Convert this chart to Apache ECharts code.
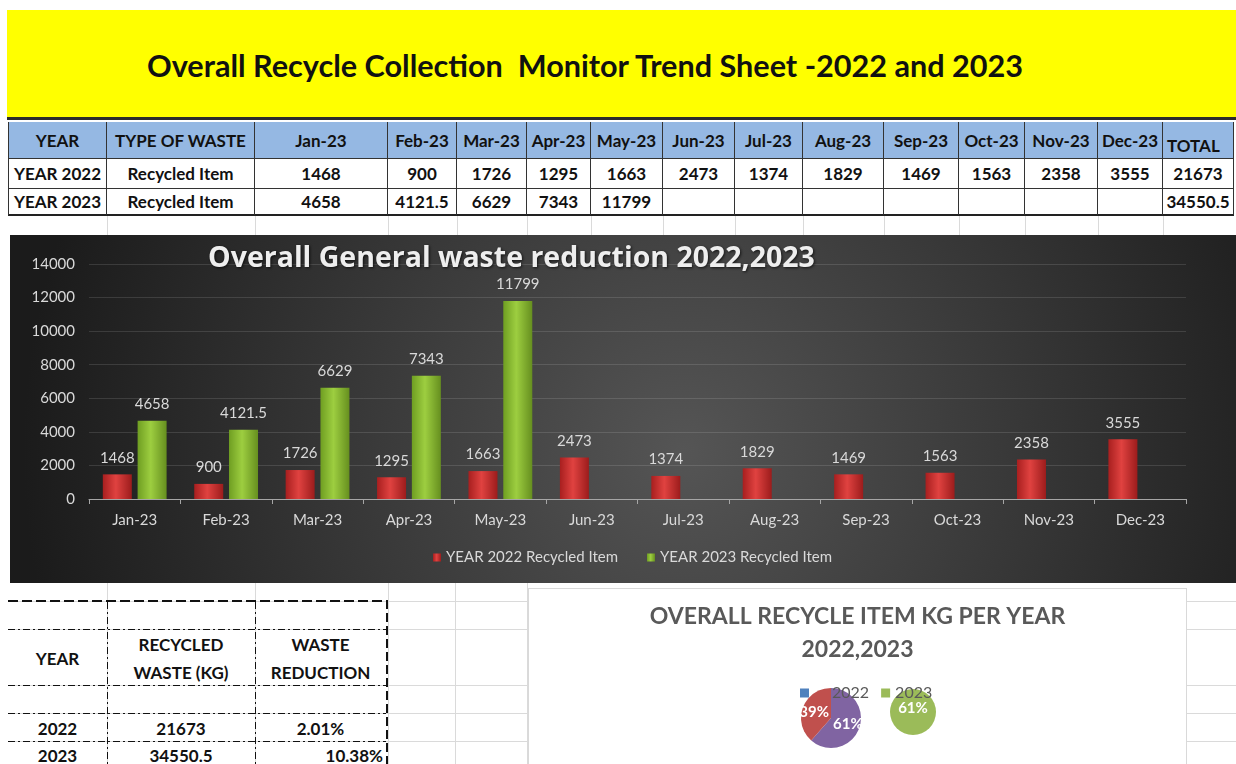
<!DOCTYPE html>
<html><head><meta charset="utf-8">
<script src="https://cdn.jsdelivr.net/npm/echarts@6/dist/echarts.min.js"></script>
<style>
html,body{margin:0;padding:0;width:1236px;height:764px;overflow:hidden;background:#fff;font-family:Lato,'Open Sans',sans-serif;}
.abs{position:absolute;box-sizing:border-box;}
.cell{position:absolute;box-sizing:border-box;display:flex;align-items:center;justify-content:center;font-weight:bold;color:#111;font-size:17px;white-space:nowrap;}
.gl{position:absolute;background:#dadada;}
.hdd{position:absolute;height:1px;background:repeating-linear-gradient(to right,#111 0 7px,transparent 7px 10px,#111 10px 12px,transparent 12px 15px);}
.vdd{position:absolute;width:1px;background:repeating-linear-gradient(to bottom,#111 0 7px,transparent 7px 10px,#111 10px 12px,transparent 12px 15px);}
.bt{position:absolute;font-weight:bold;color:#111;font-size:17px;text-align:center;white-space:nowrap;}
</style></head><body>
<div id="sheet"></div>
<div id="bar" class="abs" style="left:10px;top:235px;width:1226px;height:348px"></div>
<div id="pie" class="abs" style="left:528px;top:588px;width:659px;height:178px;background:#fff;border:1px solid #d9d9d9;"></div>
<script>
// ---------- DATA ----------
const sheetTitle = 'Overall Recycle Collection\u00a0\u00a0Monitor Trend Sheet -2022 and 2023';
const chartTitle = 'Overall General waste reduction 2022,2023';
const pieTitle = 'OVERALL RECYCLE ITEM KG PER YEAR\n2022,2023';
const months = ['Jan-23','Feb-23','Mar-23','Apr-23','May-23','Jun-23','Jul-23','Aug-23','Sep-23','Oct-23','Nov-23','Dec-23'];
const year2022 = [1468, 900, 1726, 1295, 1663, 2473, 1374, 1829, 1469, 1563, 2358, 3555];
const year2023 = [4658, 4121.5, 6629, 7343, 11799, null, null, null, null, null, null, null];
const rowLabels = ['YEAR 2022', 'YEAR 2023'];
const wasteType = 'Recycled Item';
const totals = [21673, 34550.5];
const summaryYears = ['2022', '2023'];
const reduction = ['2.01%', '10.38%'];
const seriesNames = ['YEAR 2022 Recycled Item', 'YEAR 2023 Recycled Item'];
const yTicks = {min: 0, max: 14000, step: 2000};

// ---------- LAYOUT ----------
const colEdges = [8,107,255,388,457,527,591,663,735,803,884,959,1025,1098,1163,1234];
const rowEdges = [122,159,189,216];
const sheet = document.getElementById('sheet');
function add(html){ sheet.insertAdjacentHTML('beforeend', html); }

// spreadsheet grid lines
[107,255,388,457,527,591,663,735,803,884,959,1025,1098,1163].forEach(x=>{
  add(`<div class="gl" style="left:${x}px;top:216px;width:1px;height:20px"></div>`);
});
[107,255,388,455,527].forEach(x=>{
  add(`<div class="gl" style="left:${x}px;top:583px;width:1px;height:181px"></div>`);
});
[601,629,685,713,741].forEach(y=>{
  add(`<div class="gl" style="left:8px;top:${y}px;width:1228px;height:1px"></div>`);
});

// yellow banner
add(`<div class="abs" style="left:7px;top:10px;width:1229px;height:110px;background:#ffff00;border-bottom:3px solid #2b2b2b"></div>`);
add(`<div class="abs" style="left:147px;top:47px;font-weight:bold;font-size:30.6px;color:#111;white-space:nowrap">${sheetTitle}</div>`);

// top table
const headers = ['YEAR','TYPE OF WASTE', ...months, 'TOTAL'];
const rows = rowLabels.map((lab,i)=>[lab, wasteType, ...(i===0?year2022:year2023).map(v=>v==null?'':v), totals[i]]);
const allRows = [headers, ...rows];
for(let r=0;r<allRows.length;r++){
  for(let c=0;c<colEdges.length-1;c++){
    const x=colEdges[c], w=colEdges[c+1]-colEdges[c], y=rowEdges[r], h=rowEdges[r+1]-rowEdges[r];
    const bg = r===0 ? 'background:#95b8e3;' : 'background:#fff;';
    const bl = c===0 ? 'border-left:1px solid #333;' : '';
    const bb = r===allRows.length-1 ? 'border-bottom:2px solid #222;' : 'border-bottom:1px solid #333;';
    const extra = (r===0 && c===colEdges.length-2) ? 'align-items:flex-end;justify-content:flex-start;padding:0 0 2px 4px;' : '';
    add(`<div class="cell" style="left:${x}px;top:${y}px;width:${w}px;height:${h}px;${bg}${bl}${bb}border-right:1px solid #333;${extra}">${allRows[r][c]}</div>`);
  }
}

// summary table (bottom-left)
add(`<div class="abs" style="left:8px;top:600px;width:380px;height:2px;background:repeating-linear-gradient(to right,#111 0 10px,transparent 10px 14px)"></div>`);
add(`<div class="abs" style="left:386px;top:600px;width:2px;height:164px;background:repeating-linear-gradient(to bottom,#111 0 9px,transparent 9px 13px)"></div>`);
[629,685,713,741].forEach(y=>add(`<div class="hdd" style="left:8px;top:${y}px;width:378px"></div>`));
[107,255].forEach(x=>add(`<div class="vdd" style="left:${x}px;top:602px;height:162px"></div>`));
const sumCols = [[8,107],[107,255],[255,386]];
const sumHead = ['YEAR','RECYCLED<br>WASTE (KG)','WASTE<br>REDUCTION'];
sumHead.forEach((t,i)=>{
  const [a,b]=sumCols[i];
  add(`<div class="bt" style="left:${a}px;width:${b-a}px;top:${i===0?645:631}px;line-height:28px">${t}</div>`);
});
const sumRows = summaryYears.map((y,i)=>[y, totals[i], reduction[i]]);
const sumRowTop = [717, 744];
sumRows.forEach((row,ri)=>{
  row.forEach((t,i)=>{
    const [a,b]=sumCols[i];
    const align = (ri===1 && i===2) ? 'text-align:right;padding-right:3px;box-sizing:border-box;' : '';
    add(`<div class="bt" style="left:${a}px;width:${b-a}px;top:${sumRowTop[ri]}px;line-height:24px;${align}">${t}</div>`);
  });
});

// ---------- BAR CHART ----------
const redGrad = {type:'linear',x:0,y:0,x2:1,y2:0,colorStops:[{offset:0,color:'#a81f1f'},{offset:0.45,color:'#e04240'},{offset:1,color:'#9c1c1c'}]};
const greenGrad = {type:'linear',x:0,y:0,x2:1,y2:0,colorStops:[{offset:0,color:'#6f9e22'},{offset:0.45,color:'#9dce40'},{offset:1,color:'#668f1f'}]};
const lbl = {show:true, position:'top', distance:9, color:'#d9d9d9', fontSize:15, fontFamily:'Lato'};
const bar = echarts.init(document.getElementById('bar'));
bar.setOption({
  animation:false,
  backgroundColor:{type:'radial',x:0.55,y:0.62,r:1.9,colorStops:[{offset:0,color:'#555555'},{offset:1,color:'#1b1b1b'}]},
  title:{text:chartTitle,left:198,top:9,padding:0,textStyle:{color:'#eeeeee',fontSize:28.5,fontWeight:'bold',fontFamily:'Open Sans',textShadowColor:'rgba(0,0,0,0.7)',textShadowBlur:3,textShadowOffsetX:1,textShadowOffsetY:1}},
  grid:{left:79,right:50,top:29,bottom:84,containLabel:false},
  legend:{left:418,top:310,itemWidth:8,itemHeight:8,icon:'rect',itemGap:29,data:seriesNames,textStyle:{color:'#d9d9d9',fontSize:15,fontFamily:'Lato'}},
  xAxis:{type:'category',data:months,axisLine:{lineStyle:{color:'#a6a6a6'}},axisTick:{show:true,length:5,lineStyle:{color:'#a6a6a6'}},axisLabel:{color:'#d9d9d9',fontSize:15,margin:14,fontFamily:'Lato'}},
  yAxis:{type:'value',min:yTicks.min,max:yTicks.max,interval:yTicks.step,axisLine:{show:false},axisTick:{show:false},splitLine:{lineStyle:{color:'rgba(255,255,255,0.12)'}},axisLabel:{color:'#d9d9d9',fontSize:15,margin:14,fontFamily:'Lato',formatter:v=>String(v)}},
  series:[
    {name:seriesNames[0],type:'bar',data:year2022,barWidth:29,barGap:'20%',itemStyle:{color:redGrad},label:lbl},
    {name:seriesNames[1],type:'bar',data:year2023,barWidth:29,itemStyle:{color:greenGrad},label:lbl}
  ]
});

// ---------- PIE CHART ----------
const pie = echarts.init(document.getElementById('pie'));
const share2023 = Math.round(totals[1]/(totals[0]+totals[1])*100);
pie.setOption({
  animation:false,
  title:{text:pieTitle,left:'center',top:11,padding:0,textStyle:{color:'#595959',fontSize:23,fontWeight:'bold',lineHeight:33,fontFamily:'Lato'}},
  legend:{left:266,top:91,itemWidth:9,itemHeight:9,icon:'rect',itemGap:12,
    data:[{name:summaryYears[0],itemStyle:{color:'#4f81bd'},textStyle:{padding:[0,0,0,18]}},{name:summaryYears[1],itemStyle:{color:'#9bbb59'}}],
    textStyle:{color:'#595959',fontSize:16,fontFamily:'Lato'}},
  series:[
    {type:'pie',center:[302,129],radius:30,startAngle:90,percentPrecision:0,z:1,
     data:[{name:summaryYears[1],value:totals[1],itemStyle:{color:'#8064a2'}},{name:summaryYears[0],value:totals[0],itemStyle:{color:'#c0504d'}}],
     label:{position:'inside',formatter:'{d}%',color:'#fff',fontWeight:'bold',fontSize:15,fontFamily:'Lato'},labelLine:{show:false}},
    {type:'pie',center:[384,123],radius:23,z:1,
     data:[{name:summaryYears[1],value:totals[1],itemStyle:{color:'#9bbb59'}}],
     label:{position:'center',formatter:()=>share2023+'%',color:'#fff',fontWeight:'bold',fontSize:15,fontFamily:'Lato',offset:[0,-4]},labelLine:{show:false}}
  ]
});
</script>
</body></html>
